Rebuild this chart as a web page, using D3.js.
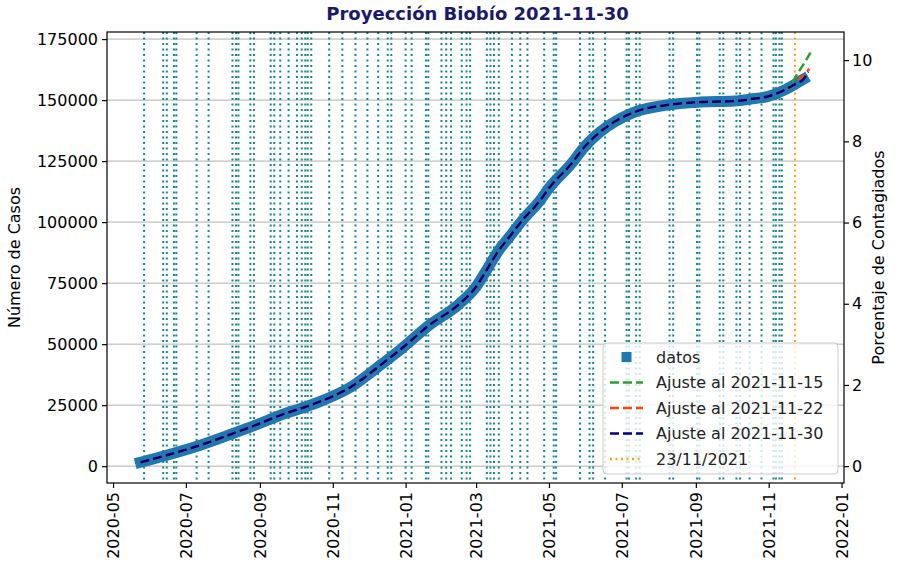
<!DOCTYPE html>
<html>
<head>
<meta charset="utf-8">
<script src="https://cdn.jsdelivr.net/npm/d3@7"></script>
<style>
  body { margin: 0; background: #fff; }
  text { font-family: "DejaVu Sans", sans-serif; }
</style>
</head>
<body>
<div id="chart"></div>
<script>
// Datos
const fechas = ["2020-05-24", "2020-06-15", "2020-07-13", "2020-08-09", "2020-08-24", "2020-09-20",
  "2020-10-19", "2020-11-16", "2020-12-13", "2020-12-27", "2021-01-20", "2021-02-15", "2021-03-01",
  "2021-03-10", "2021-03-19", "2021-03-29", "2021-04-10", "2021-04-23", "2021-05-01", "2021-05-19",
  "2021-06-01", "2021-06-13", "2021-07-11", "2021-08-08", "2021-09-05", "2021-10-03", "2021-10-17",
  "2021-11-01", "2021-11-14", "2021-11-23", "2021-11-30"];
const casos = [1600, 4500, 8600, 13300, 16000, 21200, 26000, 32400, 42200, 47500, 57500, 66500, 73500,
  80500, 87700, 94000, 101500, 108500, 113900, 123500, 131500, 137000, 145000, 148000, 149200, 149600,
  150400, 151600, 154100, 156500, 158500];

// tramos finales de cada ajuste (antes siguen a los datos)
const fechas15 = ["2021-11-20", "2021-11-25", "2021-11-30", "2021-12-06"];
const ajuste15 = [157300, 160800, 164500, 169500];
const fechas22 = ["2021-11-26", "2021-11-30", "2021-12-05"];
const ajuste22 = [158300, 160000, 162800];
const fechas30 = ["2021-12-04"];
const ajuste30 = [161600];

// fechas de las lineas verticales
const eventos = ["2020-05-27", "2020-06-12", "2020-06-15", "2020-06-21", "2020-06-23", "2020-07-10",
  "2020-07-20", "2020-08-09", "2020-08-12", "2020-08-14", "2020-08-24", "2020-08-27", "2020-09-10",
  "2020-09-13", "2020-09-18", "2020-09-25", "2020-10-02", "2020-10-06", "2020-10-09", "2020-10-11",
  "2020-10-14", "2020-10-29", "2020-11-09", "2020-11-20", "2020-11-30", "2020-12-09", "2020-12-17",
  "2020-12-20", "2021-01-01", "2021-01-06", "2021-01-18", "2021-01-20", "2021-01-31", "2021-02-04",
  "2021-02-08", "2021-02-17", "2021-02-21", "2021-02-24", "2021-03-10", "2021-03-13", "2021-03-16",
  "2021-03-20", "2021-03-31", "2021-04-07", "2021-04-13", "2021-04-27", "2021-05-05", "2021-05-07",
  "2021-05-27", "2021-06-04", "2021-06-07", "2021-06-17", "2021-07-05", "2021-07-07", "2021-07-13",
  "2021-07-16", "2021-08-10", "2021-08-13", "2021-09-02", "2021-09-04", "2021-09-21", "2021-09-24",
  "2021-10-05", "2021-10-08", "2021-10-16", "2021-10-26", "2021-11-05", "2021-11-07", "2021-11-10",
  "2021-11-12"];
const fechaCorte = "2021-11-23";

const yTicks = [0, 25000, 50000, 75000, 100000, 125000, 150000, 175000];
const pctTicks = [0, 2, 4, 6, 8, 10];
const poblacion = 1663696;

const parse = d3.timeParse("%Y-%m-%d");
const toPts = (f, v) => f.map((d, i) => ({ x: parse(d), y: v[i] }));
const datos = toPts(fechas, casos);
const idx = f => fechas.findIndex(d => d >= f);
const serie15 = datos.slice(0, idx("2021-11-15") + 1).concat(toPts(fechas15, ajuste15));
const serie22 = datos.slice(0, idx("2021-11-22") + 1).concat(toPts(fechas22, ajuste22));
const serie30 = datos.concat(toPts(fechas30, ajuste30));

const margin = { top: 32, right: 60, bottom: 90, left: 107 };
const width = 904 - margin.left - margin.right;
const height = 573 - margin.top - margin.bottom;

const svg = d3.select("#chart").append("svg")
  .attr("width", 904).attr("height", 573);
const g = svg.append("g").attr("transform", `translate(${margin.left},${margin.top})`);

// limites con 5% de margen como matplotlib
const x0 = parse(fechas[0]), x1 = parse(fechas15[fechas15.length - 1]);
const padX = (x1 - x0) * 0.05;
const x = d3.scaleTime().domain([new Date(+x0 - padX), new Date(+x1 + padX)]).range([0, width]);
const yMin = 1500, yMax = 169500, padY = (yMax - yMin) * 0.05;
const y = d3.scaleLinear().domain([yMin - padY, yMax + padY]).range([height, 0]);
const yPct = d3.scaleLinear().domain(y.domain().map(v => v / poblacion * 100)).range([height, 0]);

// grilla
g.append("g").selectAll("line").data(yTicks).join("line")
  .attr("x1", 0).attr("x2", width)
  .attr("y1", d => y(d)).attr("y2", d => y(d))
  .attr("stroke", "#b0b0b0").attr("stroke-width", 1);

// lineas verticales
g.append("g").selectAll("line").data(eventos).join("line")
  .attr("x1", d => x(parse(d))).attr("x2", d => x(parse(d)))
  .attr("y1", 0).attr("y2", height)
  .attr("stroke", "#108a8a").attr("stroke-width", 2)
  .attr("stroke-dasharray", "2,3.5");

g.append("line")
  .attr("x1", x(parse(fechaCorte))).attr("x2", x(parse(fechaCorte)))
  .attr("y1", 0).attr("y2", height)
  .attr("stroke", "#ffa500").attr("stroke-width", 2)
  .attr("stroke-dasharray", "2,3.5");

const line = d3.line().x(d => x(d.x)).y(d => y(d.y)).curve(d3.curveMonotoneX);

// datos: banda gruesa de cuadrados
g.append("path").datum(datos)
  .attr("d", line).attr("fill", "none")
  .attr("stroke", "#1f77b4").attr("stroke-width", 11)
  .attr("stroke-linecap", "square");

const fits = [
  { s: serie15, c: "#2ca02c", name: "Ajuste al 2021-11-15" },
  { s: serie22, c: "#ff4500", name: "Ajuste al 2021-11-22" },
  { s: serie30, c: "#000080", name: "Ajuste al 2021-11-30" }
];
fits.forEach(f => {
  g.append("path").datum(f.s)
    .attr("d", line).attr("fill", "none")
    .attr("stroke", f.c).attr("stroke-width", 2.5)
    .attr("stroke-dasharray", "9,4");
});

// ejes
const xAxis = g.append("g").attr("transform", `translate(0,${height})`)
  .call(d3.axisBottom(x).ticks(d3.timeMonth.every(2)).tickFormat(d3.timeFormat("%Y-%m")).tickSizeOuter(0).tickSize(5));
xAxis.selectAll("text")
  .attr("font-size", 16).attr("fill", "#000")
  .attr("text-anchor", "end")
  .attr("transform", "rotate(-90)")
  .attr("x", -9).attr("y", 0).attr("dy", "0.35em");

const yAxis = g.append("g")
  .call(d3.axisLeft(y).tickValues(yTicks).tickFormat(d3.format("d")).tickSizeOuter(0).tickSize(5));
yAxis.selectAll("text").attr("font-size", 16).attr("fill", "#000").attr("x", -9);

const y2Axis = g.append("g").attr("transform", `translate(${width},0)`)
  .call(d3.axisRight(yPct).tickValues(pctTicks).tickSizeOuter(0).tickSize(5));
y2Axis.selectAll("text").attr("font-size", 16).attr("fill", "#000");

[xAxis, yAxis, y2Axis].forEach(a => {
  a.select(".domain").remove();
  a.selectAll("line").attr("stroke", "#000").attr("stroke-width", 1.2);
});

// marco
g.append("rect").attr("width", width).attr("height", height)
  .attr("fill", "none").attr("stroke", "#000").attr("stroke-width", 1.2);

// leyenda
const leg = svg.append("g").attr("transform", "translate(603,343)");
leg.append("rect").attr("width", 235).attr("height", 131).attr("rx", 4)
  .attr("fill", "#fff").attr("fill-opacity", 0.8).attr("stroke", "#cccccc");
const rows = [{ t: "datos" }].concat(fits.map(f => ({ t: f.name, c: f.c, dash: "9,4" })))
  .concat([{ t: "23/11/2021", c: "#ffa500", dash: "2,3.5" }]);
rows.forEach((r, i) => {
  const cy = 14 + i * 25.5;
  if (i === 0) {
    leg.append("rect").attr("x", 18.5).attr("y", cy - 5).attr("width", 10).attr("height", 10).attr("fill", "#1f77b4");
  } else {
    leg.append("line").attr("x1", 7).attr("x2", 40).attr("y1", cy).attr("y2", cy)
      .attr("stroke", r.c).attr("stroke-width", 2.5).attr("stroke-dasharray", r.dash);
  }
  leg.append("text").attr("x", 53).attr("y", cy).attr("dy", "0.35em")
    .attr("font-size", 16).attr("fill", "#222").text(r.t);
});

// titulos
svg.append("text").attr("x", margin.left + width / 2 + 2).attr("y", 20)
  .attr("text-anchor", "middle").attr("font-size", 18).attr("font-weight", "bold")
  .attr("fill", "#191970").text("Proyección Biobío 2021-11-30");

svg.append("text").attr("transform", `translate(20,${margin.top + height / 2}) rotate(-90)`)
  .attr("text-anchor", "middle").attr("font-size", 16).text("Número de Casos");

svg.append("text").attr("transform", `translate(884,${margin.top + height / 2}) rotate(-90)`)
  .attr("text-anchor", "middle").attr("font-size", 16).text("Porcentaje de Contagiados");
</script>
</body>
</html>
